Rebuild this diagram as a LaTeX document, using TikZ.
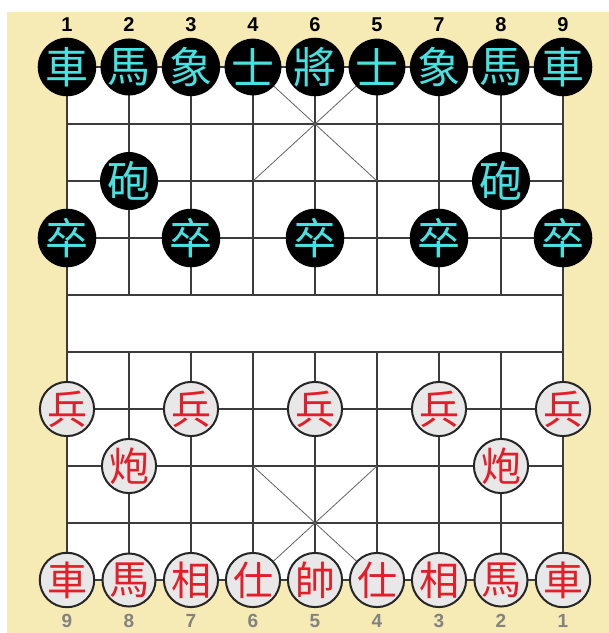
\documentclass[tikz,border=0pt]{standalone}
\usepackage{fontspec}
\setmainfont{Liberation Sans}
\newfontfamily\cjk{Noto Sans CJK TC}
\definecolor{beige}{RGB}{246,235,181}
\definecolor{gridc}{RGB}{60,60,60}
\definecolor{cyanpc}{RGB}{70,225,225}
\definecolor{redpc}{RGB}{228,30,40}
\definecolor{redfill}{RGB}{232,232,232}
\definecolor{numgray}{RGB}{130,130,130}
\tikzset{
  gridline/.style={draw=gridc, line width=1.4pt},
  diagline/.style={draw=gridc!80, line width=0.8pt},
  blackpiece/.style={circle, fill=black, minimum size=54pt, inner sep=0pt,
    text=cyanpc, font=\cjk\fontsize{43}{43}\selectfont},
  redpiece/.style={circle, draw=black!85, line width=2pt, fill=redfill,
    minimum size=51pt, inner sep=0pt, text=redpc, font=\cjk\fontsize{40}{40}\selectfont},
  topnum/.style={inner sep=0pt, font=\bfseries\fontsize{20}{20}\selectfont, text=black},
  botnum/.style={inner sep=0pt, font=\bfseries\fontsize{19}{19}\selectfont, text=numgray}
}
\begin{document}
\begin{tikzpicture}[x=1pt,y=-1pt]
\useasboundingbox (0,0) rectangle (609,633);
\fill[white] (0,0) rectangle (609,633);
\fill[beige] (7,12) rectangle (609,633);
\fill[white] (67,67) rectangle (563,580);
% grid points
\foreach \i in {0,...,8}{
  \foreach \j in {0,...,9}{
    \coordinate (p-\i-\j) at ({67+62*\i},{67+57*\j});
  }
}
% horizontal lines
\foreach \j in {0,...,9}{
  \draw[gridline] (p-0-\j) -- (p-8-\j);
}
% outer verticals
\draw[gridline] (p-0-0) -- (p-0-9);
\draw[gridline] (p-8-0) -- (p-8-9);
% inner verticals
\foreach \i in {1,...,7}{
  \draw[gridline] (p-\i-0) -- (p-\i-4);
  \draw[gridline] (p-\i-5) -- (p-\i-9);
}
% palace diagonals
\draw[diagline] (p-3-0) -- (p-5-2);
\draw[diagline] (p-5-0) -- (p-3-2);
\draw[diagline] (p-3-7) -- (p-5-9);
\draw[diagline] (p-5-7) -- (p-3-9);
% top numbers
\foreach \lab [count=\c from 0] in {1,2,3,4,6,5,7,8,9}{
  \node[topnum] (tn-\c) at ({67+62*\c},25) {\lab};
}
% bottom numbers
\foreach \lab [count=\c from 0] in {9,8,7,6,5,4,3,2,1}{
  \node[botnum] (bn-\c) at ({67+62*\c},621) {\lab};
}
% black pieces
\foreach \ch [count=\c from 0] in {車,馬,象,士,將,士,象,馬,車}{
  \node[blackpiece] (b0-\c) at (p-\c-0) {\ch};
}
\node[blackpiece] (bc1) at (p-1-2) {砲};
\node[blackpiece] (bc2) at (p-7-2) {砲};
\foreach \c in {0,2,4,6,8}{
  \node[blackpiece] (bz-\c) at (p-\c-3) {卒};
}
% red pieces
\foreach \c in {0,2,4,6,8}{
  \node[redpiece] (rb-\c) at (p-\c-6) {兵};
}
\node[redpiece] (rc1) at (p-1-7) {炮};
\node[redpiece] (rc2) at (p-7-7) {炮};
\foreach \ch [count=\c from 0] in {車,馬,相,仕,帥,仕,相,馬,車}{
  \node[redpiece] (r9-\c) at (p-\c-9) {\ch};
}
\end{tikzpicture}
\end{document}
